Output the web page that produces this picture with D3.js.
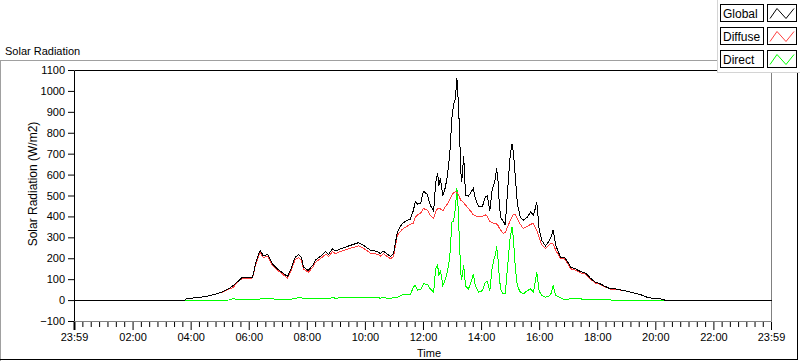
<!DOCTYPE html>
<html>
<head>
<meta charset="utf-8">
<script src="https://cdn.jsdelivr.net/npm/d3@7"></script>
<style>
  body { margin: 0; background: #fff; }
  svg { display: block; font-family: "Liberation Sans", Arial, sans-serif; }
</style>
</head>
<body>
<svg id="chart" width="800" height="361"></svg>
<script>
// readings, time of day (HH:MM) and W/m2
const times = ["00:00","03:46","03:50","04:05","04:30","04:46","05:05","05:21","05:27","05:34",
  "05:46","05:56","06:07","06:13","06:19","06:23","06:29","06:38","06:48","06:58",
  "07:09","07:19","07:25","07:35","07:42","07:48","07:52","08:02","08:11","08:17",
  "08:27","08:38","08:44","08:52","08:58","09:13","09:29","09:46","09:56","10:11",
  "10:25","10:31","10:37","10:52","10:58","11:06","11:16","11:22","11:33","11:39",
  "11:43","11:48","11:54","12:00","12:08","12:14","12:21","12:25","12:29","12:32",
  "12:35","12:40","12:45","12:49","12:54","12:59","13:02","13:06","13:09","13:11",
  "13:14","13:17","13:19","13:23","13:27","13:33","13:40","13:43","13:47","13:54",
  "14:02","14:08","14:12","14:17","14:22","14:26","14:29","14:31","14:34","14:37",
  "14:40","14:45","14:49","14:53","14:59","15:03","15:06","15:10","15:14","15:20",
  "15:26","15:35","15:41","15:47","15:51","15:54","15:59","16:05","16:12","16:18",
  "16:23","16:28","16:33","16:43","16:51","16:58","17:04","17:14","17:24","17:35",
  "17:45","17:55","18:05","18:16","18:26","18:37","18:47","19:01","19:14","19:28",
  "19:42","19:55","20:10","20:22","23:59"];

const globalRad = [0,0,8,13,19,28,42,62,72,86,
  112,109,112,176,220,240,213,222,176,152,
  132,115,144,208,219,205,160,144,168,195,
  211,235,221,248,237,251,264,277,264,240,
  235,224,237,211,224,328,368,378,390,430,
  472,461,464,523,507,456,427,560,610,550,
  584,500,540,590,690,880,935,968,1062,990,
  840,620,568,690,504,500,525,536,488,448,
  452,496,500,430,530,560,590,635,570,450,
  395,380,360,500,690,750,705,585,460,400,
  384,400,424,410,440,472,340,285,262,280,
  300,338,265,208,208,184,160,152,139,131,
  107,88,80,67,56,56,51,45,37,29,
  16,10,8,0,0];

const diffuseRad = [0,0,8,13,19,28,41,58,62,83,
  108,105,108,170,212,230,205,212,168,146,
  126,108,136,196,205,192,150,136,158,184,
  200,222,210,234,225,238,250,262,250,226,
  222,212,224,200,210,312,340,350,365,370,
  398,410,418,440,432,408,392,425,440,440,
  438,430,448,460,480,505,515,520,518,512,
  495,480,476,468,456,440,420,410,405,402,
  403,410,402,378,372,370,368,366,360,345,
  335,322,325,350,380,400,412,410,390,365,
  345,355,365,368,350,335,300,264,248,262,
  274,270,242,200,200,178,152,146,133,126,
  102,84,77,65,55,55,50,45,37,29,
  16,10,8,0,0];

const directRad = [0,0,0,0,0,0,2,3,12,3,
  3,3,4,5,6,8,8,10,8,6,
  5,6,6,10,15,14,10,8,10,10,
  11,12,11,13,12,13,14,15,14,13,
  13,12,13,11,14,16,28,30,28,64,
  72,50,52,80,78,56,40,150,170,120,
  144,72,100,136,200,380,380,440,540,470,
  300,130,100,170,70,56,100,128,72,40,
  48,88,90,45,160,200,220,260,200,100,
  50,32,35,144,300,352,290,150,70,40,
  32,48,56,40,90,136,45,24,16,20,
  30,72,24,14,5,6,10,8,8,6,
  5,5,5,4,3,1,0,0,0,0,
  0,0,0,0,0];

const xTickLabels = ["23:59","02:00","04:00","06:00","08:00","10:00","12:00",
  "14:00","16:00","18:00","20:00","22:00","23:59"];
const yTicks = d3.range(-100, 1101, 100);
const seriesNames = ["Global", "Diffuse", "Direct"];
const seriesColors = ["#000000", "#ff4040", "#00ff00"];

const toMin = s => { const p = s.split(":").map(Number); return p[0] * 60 + p[1]; };
const xTickMins = xTickLabels.map((s, i) => i === 0 ? -1 : toMin(s));

const svg = d3.select("#chart");

const x = d3.scaleLinear().domain([-1, 1439]).range([74, 771]);
const y = d3.scaleLinear().domain([-100, 1100]).range([321, 70]);

// outer frame (sunken look: grey top/left, dark bottom/right)
svg.append("line").attr("x1", 0).attr("x2", 718).attr("y1", 60.5).attr("y2", 60.5).attr("stroke", "#a0a0a0");
svg.append("line").attr("x1", 0.5).attr("x2", 0.5).attr("y1", 60.5).attr("y2", 361).attr("stroke", "#a0a0a0");
svg.append("line").attr("x1", 0).attr("x2", 798).attr("y1", 359.5).attr("y2", 359.5).attr("stroke", "#000");
svg.append("line").attr("x1", 797.5).attr("x2", 797.5).attr("y1", 60).attr("y2", 360).attr("stroke", "#000");

svg.append("text")
  .attr("x", 5).attr("y", 55)
  .style("font-size", "11px")
  .text("Solar Radiation");

// plot box
svg.append("line").attr("x1", 74.5).attr("x2", 771.5).attr("y1", 70.5).attr("y2", 70.5).attr("stroke", "#000");
svg.append("line").attr("x1", 771.5).attr("x2", 771.5).attr("y1", 70.5).attr("y2", 321.5).attr("stroke", "#808080");
svg.append("line").attr("x1", 74.5).attr("x2", 771.5).attr("y1", 321.5).attr("y2", 321.5).attr("stroke", "#808080");

// series
const line = d3.line()
  .x((d, i) => x(toMin(times[i])))
  .y(d => y(d));

const plot = svg.append("g").attr("transform", "translate(0.5,0.5)");
[directRad, diffuseRad, globalRad].forEach((vals, k) => {
  const c = seriesColors[2 - k];
  plot.append("path")
    .datum(vals)
    .attr("d", line)
    .attr("fill", "none")
    .attr("stroke", c)
    .attr("stroke-width", 1)
    .attr("shape-rendering", "crispEdges");
});

// y axis
const yAxis = svg.append("g")
  .attr("transform", "translate(74,0)")
  .call(d3.axisLeft(y).tickValues(yTicks).tickSize(6).tickPadding(3).tickFormat(d3.format("d")));
yAxis.select(".domain").attr("stroke", "#000").attr("d", "M0.5,70.5V321.5");
yAxis.selectAll("text").style("font-size", "11px").attr("fill", "#000").style("font-family", "Liberation Sans, Arial, sans-serif");

// x axis, minor then major ticks
const minorTicks = [];
for (let i = 0; i < xTickMins.length - 1; i++) {
  const a = xTickMins[i], b = xTickMins[i + 1];
  for (let j = 1; j < 7; j++) minorTicks.push(a + (b - a) * j / 7);
}
const xMinor = svg.append("g")
  .attr("transform", "translate(0,322)")
  .call(d3.axisBottom(x).tickValues(minorTicks).tickSize(5).tickFormat(""));
xMinor.select(".domain").remove();

const xAxis = svg.append("g")
  .attr("transform", "translate(0,322)")
  .call(d3.axisBottom(x).tickValues(xTickMins).tickSize(8).tickPadding(3)
    .tickFormat((d, i) => xTickLabels[i]));
xAxis.select(".domain").remove();
xAxis.selectAll("text").style("font-size", "11px").attr("fill", "#000").style("font-family", "Liberation Sans, Arial, sans-serif");
xAxis.selectAll(".tick line").filter((d, i) => i === 0).attr("stroke-width", 2);

svg.append("text")
  .attr("x", 429).attr("y", 357)
  .attr("text-anchor", "middle")
  .style("font-size", "11px")
  .text("Time");

svg.append("text")
  .attr("transform", "translate(37,184) rotate(-90)")
  .attr("text-anchor", "middle")
  .style("font-size", "12px")
  .text("Solar Radiation (W/m2)");

// legend panel
const leg = svg.append("g");
leg.append("rect").attr("x", 717.5).attr("y", -1).attr("width", 90).attr("height", 73.5)
  .attr("fill", "#fff").attr("stroke", "#d4d4d4");
seriesNames.forEach((name, i) => {
  const top = 4.5 + i * 23;
  leg.append("rect").attr("x", 720.5).attr("y", top).attr("width", 43).attr("height", 17)
    .attr("fill", "#fff").attr("stroke", "#000");
  leg.append("text").attr("x", 723).attr("y", top + 13)
    .style("font-size", "12px").text(name);
  leg.append("rect").attr("x", 767.5).attr("y", top).attr("width", 29).attr("height", 17)
    .attr("fill", "#fff").attr("stroke", "#000");
  leg.append("path")
    .attr("d", `M770,${top + 14}L777,${top + 4}L786,${top + 14}L794,${top + 4}`)
    .attr("fill", "none").attr("stroke", seriesColors[i]);
});
</script>
</body>
</html>
